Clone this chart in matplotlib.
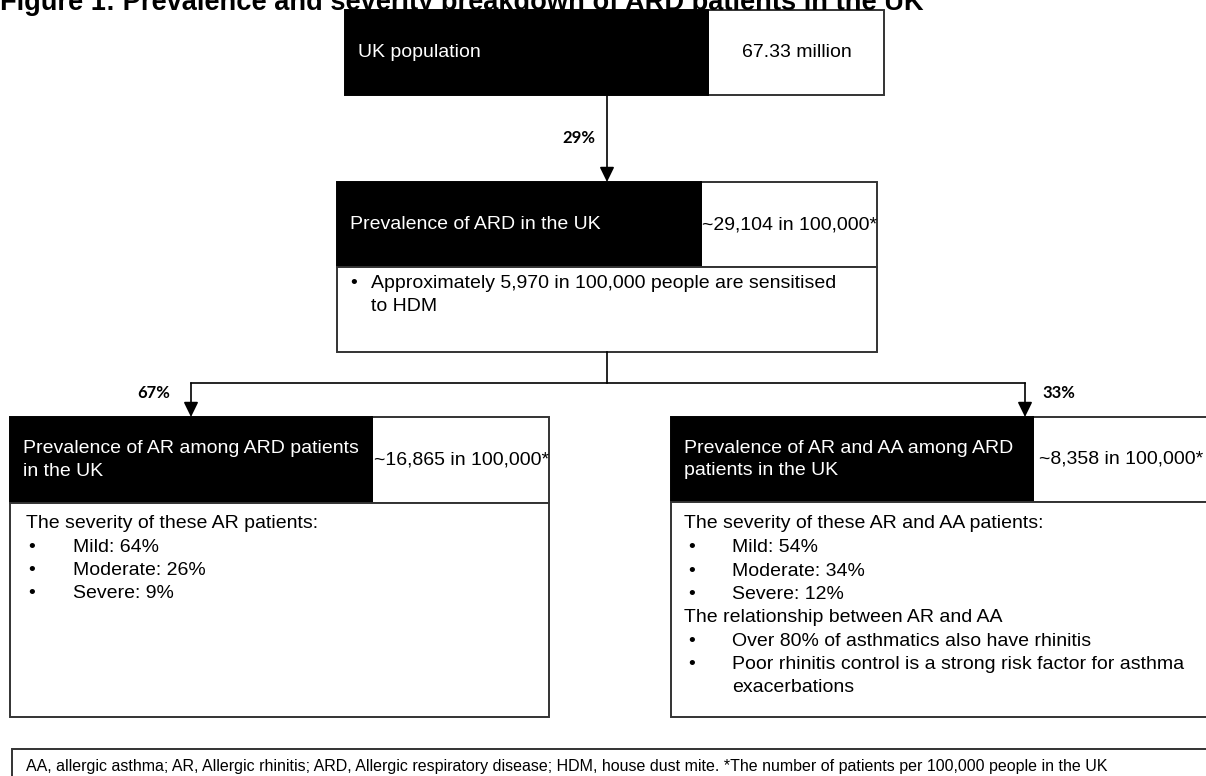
import matplotlib.pyplot as plt
from matplotlib.patches import Rectangle

plt.rcParams['font.family'] = ['Liberation Sans', 'DejaVu Sans']

# Chart content
title = 'Figure 1: Prevalence and severity breakdown of ARD patients in the UK'
uk_population = '67.33 million'
branch_pct = [29, 67, 33]              # UK -> ARD, ARD -> AR, ARD -> AR+AA
rates_per_100k = [29104, 16865, 8358]  # ARD, AR, AR+AA
hdm_sensitised = 5970
severity_levels = ['Mild', 'Moderate', 'Severe']
ar_severity = [64, 26, 9]
ar_aa_severity = [54, 34, 12]
relationship = ['Over 80% of asthmatics also have rhinitis',
                'Poor rhinitis control is a strong risk factor for asthma\nexacerbations']
footnote = ('AA, allergic asthma; AR, Allergic rhinitis; ARD, Allergic respiratory disease; '
            'HDM, house dust mite. *The number of patients per 100,000 people in the UK')

EDGE = '#333333'
FS = 14
LINE = 23.3

fig = plt.figure(figsize=(12.06, 7.76), dpi=100)
ax = fig.add_axes([0, 0, 1, 1])
ax.set_xlim(0, 1206)
ax.set_ylim(776, 0)
ax.axis('off')


def rect(x0, y0, x1, y1, fill='white', lw=1.4):
    ax.add_patch(Rectangle((x0, y0), x1 - x0, y1 - y0, facecolor=fill,
                           edgecolor=EDGE if fill == 'white' else 'black', lw=lw))


def header(x0, x1, xs, y0, y1, label, value, value_left=None):
    rect(xs, y0, x1, y1)
    rect(x0, y0, xs, y1, fill='black')
    ax.text(x0 + 13, (y0 + y1) / 2, label, color='white', fontsize=FS,
            va='center', ha='left', linespacing=1.4)
    if value_left is None:
        ax.text((xs + x1) / 2 + 1, (y0 + y1) / 2, value, fontsize=FS,
                va='center', ha='center')
    else:
        ax.text(value_left, (y0 + y1) / 2, value, fontsize=FS,
                va='center', ha='left')


def arrow(x, y0, y1):
    ax.annotate('', xy=(x, y1), xytext=(x, y0),
                arrowprops=dict(arrowstyle='-|>,head_length=0.45,head_width=0.22',
                                mutation_scale=20, color='black', lw=1.2,
                                shrinkA=0, shrinkB=0))


def pct_label(x, y, v):
    ax.text(x, y, f'{v}%', fontsize=12, fontweight='bold',
            family=['Lato', 'DejaVu Sans'], ha='center', va='center')


def bullets(xb, xt, y, items):
    for txt in items:
        ax.text(xb, y, '•', fontsize=FS, va='center')
        for part in txt.split('\n'):
            ax.text(xt, y, part, fontsize=FS, va='center')
            y += LINE
    return y


def rate(v):
    return '~{:,} in 100,000*'.format(v)


# title (clipped at the top like the source)
ax.text(0, 9.5, title, fontsize=19.6, fontweight='bold', va='baseline', ha='left')

# level 1
header(345, 884, 708, 10, 95, 'UK population', uk_population)
arrow(607, 95, 182)
pct_label(579, 138, branch_pct[0])

# level 2
header(337, 877, 701, 182, 267, 'Prevalence of ARD in the UK', rate(rates_per_100k[0]))
rect(337, 267, 877, 352)
bullets(350, 371, 283,
        [f'Approximately {hdm_sensitised:,} in 100,000 people are sensitised\nto HDM'])

# connectors
ax.plot([607, 607], [352, 383], color='black', lw=1.2)
ax.plot([191, 1025], [383, 383], color='black', lw=1.2)
arrow(191, 383, 417)
arrow(1025, 383, 417)
pct_label(154, 393, branch_pct[1])
pct_label(1059, 393, branch_pct[2])

# level 3 left
header(10, 549, 372, 417, 503, 'Prevalence of AR among ARD patients\nin the UK',
       rate(rates_per_100k[1]))
rect(10, 503, 549, 717)
ax.text(26, 524, 'The severity of these AR patients:', fontsize=FS, va='center')
bullets(28, 73, 547, [f'{l}: {p}%' for l, p in zip(severity_levels, ar_severity)])

# level 3 right
header(671, 1260, 1033, 417, 502, 'Prevalence of AR and AA among ARD\npatients in the UK',
       rate(rates_per_100k[2]), value_left=1039)
rect(671, 502, 1260, 717)
ax.text(684, 524, 'The severity of these AR and AA patients:', fontsize=FS, va='center')
y = bullets(688, 732, 548, [f'{l}: {p}%' for l, p in zip(severity_levels, ar_aa_severity)])
ax.text(684, y, 'The relationship between AR and AA', fontsize=FS, va='center')
bullets(688, 732, y + LINE, relationship)

# footnote box
rect(12, 749, 1260, 800)
ax.text(26, 766, footnote, fontsize=11.5, va='center', ha='left')

fig.savefig('out.png', dpi=100)
